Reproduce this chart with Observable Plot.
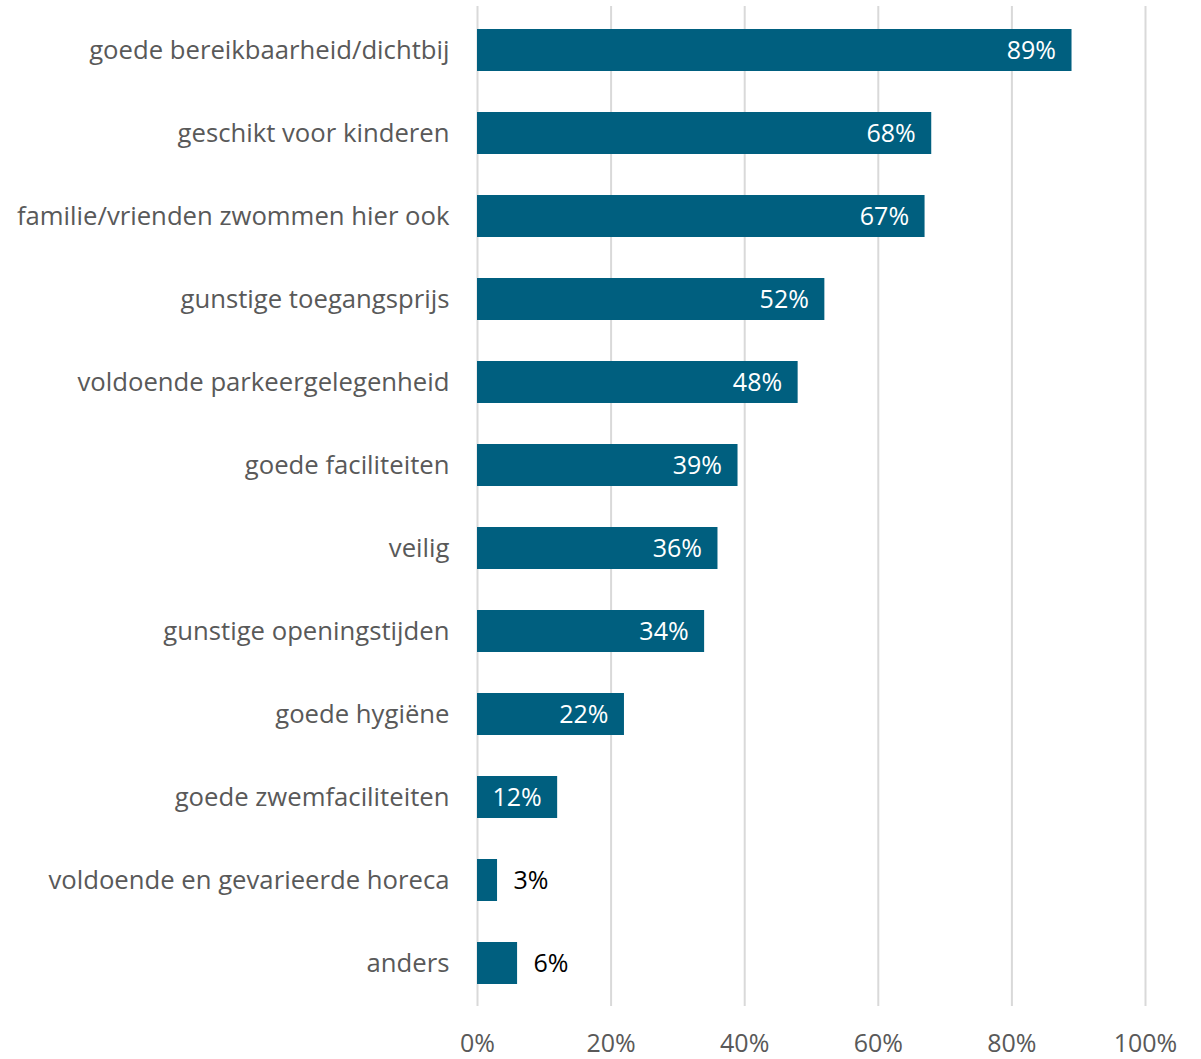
<!DOCTYPE html>
<html>
<head>
<meta charset="utf-8">
<script src="https://cdn.jsdelivr.net/npm/d3@7"></script>
<script src="https://cdn.jsdelivr.net/npm/@observablehq/plot@0.6"></script>
<style>
  html, body { margin: 0; padding: 0; background: #fff; }
  #chart svg { display: block; }
</style>
</head>
<body>
<div id="chart"></div>
<script>
const categories = [
  "goede bereikbaarheid/dichtbij",
  "geschikt voor kinderen",
  "familie/vrienden zwommen hier ook",
  "gunstige toegangsprijs",
  "voldoende parkeergelegenheid",
  "goede faciliteiten",
  "veilig",
  "gunstige openingstijden",
  "goede hygiëne",
  "goede zwemfaciliteiten",
  "voldoende en gevarieerde horeca",
  "anders"
];
const values = [89, 68, 67, 52, 48, 39, 36, 34, 22, 12, 3, 6];
const xTicks = [0, 20, 40, 60, 80, 100];

const data = categories.map((c, i) => ({category: c, value: values[i]}));
const inside = data.filter(d => d.value >= 10);
const outside = data.filter(d => d.value < 10);

const FONT = "'Open Sans', sans-serif";
const FS = 25;

const chart = Plot.plot({
  width: 1201,
  height: 1059,
  marginLeft: 477,
  marginRight: 56,
  marginTop: 6,
  marginBottom: 53,
  style: {fontFamily: FONT, fontSize: FS + "px", color: "#595959", background: "#fff"},
  x: {domain: [0, 100], ticks: xTicks, tickFormat: d => d + "%", label: null, grid: false},
  y: {domain: categories, paddingInner: 0.5, paddingOuter: 0.25, label: null},
  marks: [
    Plot.ruleX(xTicks, {stroke: "#d9d9d9", strokeWidth: 2}),
    Plot.barX(data, {x: "value", y: "category", fill: "#005F7F"}),
    Plot.text(inside, {x: "value", y: "category", text: d => d.value + "%", textAnchor: "end", dx: -16, fill: "#ffffff", fontSize: FS}),
    Plot.text(outside, {x: "value", y: "category", text: d => d.value + "%", textAnchor: "start", dx: 16, fill: "#000000", fontSize: FS}),
    Plot.axisY({tickSize: 0, tickPadding: 28, fontSize: 25.7, fill: "#595959", label: null}),
    Plot.axisX(xTicks, {tickSize: 0, tickPadding: 28, fontSize: FS, fill: "#595959", tickFormat: d => d + "%", label: null})
  ]
});
document.getElementById("chart").appendChild(chart);
</script>
</body>
</html>
